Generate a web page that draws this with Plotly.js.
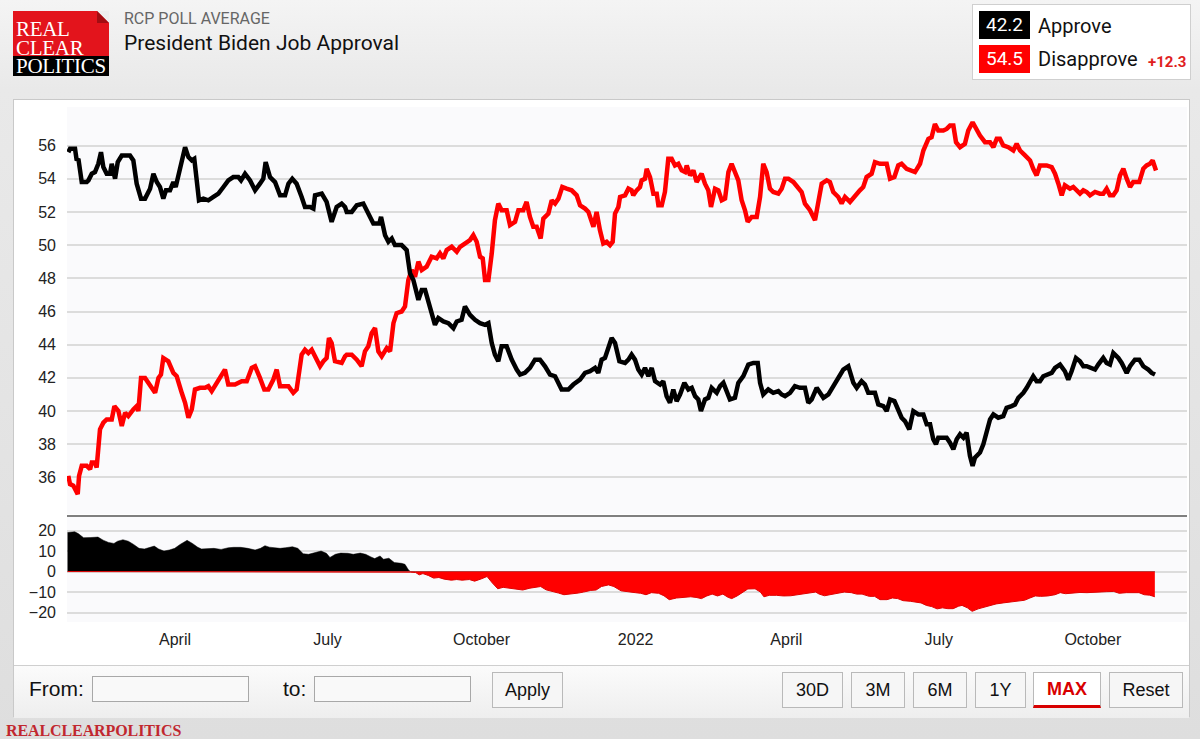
<!DOCTYPE html>
<html>
<head>
<meta charset="utf-8">
<script src="https://cdn.plot.ly/plotly-3.0.1.min.js"></script>
<style>
  html,body{margin:0;padding:0;}
  body{width:1200px;height:739px;overflow:hidden;position:relative;
       background:linear-gradient(#f4f4f4 0px,#e9e9e9 90px,#e4e4e4 400px,#dedede 739px);
       font-family:Roboto,"Liberation Sans",Arial,sans-serif;}
  .abs{position:absolute;white-space:nowrap;}
  .logo-red{position:absolute;left:13px;top:11px;width:96px;height:45px;background:#e3141c;}
  .logo-blk{position:absolute;left:13px;top:56px;width:96px;height:20px;background:#000;}
  .logo-fold{position:absolute;left:97px;top:11px;width:12px;height:12px;background:#a30d12;
             clip-path:polygon(0 0,100% 100%,0 100%);}
  .logo-corner{position:absolute;left:97px;top:11px;width:12px;height:12px;background:#eeeeee;
             clip-path:polygon(0 0,100% 0,100% 100%);}
  .logo-t{position:absolute;left:16px;top:20px;white-space:pre;font-family:"Liberation Serif","DejaVu Serif",serif;
          font-size:21px;line-height:18.6px;color:#fff;letter-spacing:-0.3px;}
  .panel{position:absolute;left:13px;top:99px;width:1177px;height:618px;background:#fff;
         border:1px solid #c9c9c9;box-sizing:border-box;}
  .bar{position:absolute;left:0;top:565px;width:100%;height:52px;
       background:linear-gradient(#fbfbfb,#eeeeee);border-top:1px solid #cfcfcf;}
  .lbl{position:absolute;font-family:"Liberation Sans",Arial,sans-serif;font-size:21px;color:#111;line-height:24px;}
  .inp{position:absolute;height:26px;border:1px solid #a8a8a8;background:#f9f9f9;box-sizing:border-box;}
  .btn{position:absolute;top:672px;height:36px;box-sizing:border-box;border:1px solid #b9b9b9;
       background:#f6f6f6;font-family:"Liberation Sans",Arial,sans-serif;font-size:18px;color:#111;
       display:flex;align-items:center;justify-content:center;}
  #chart{position:absolute;left:13px;top:99px;width:1178px;height:565px;}
</style>
</head>
<body>
<div class="logo-red"></div>
<div class="logo-blk"></div>
<div class="logo-corner"></div>
<div class="logo-fold"></div>
<div class="logo-t">REAL
CLEAR
POLITICS</div>

<div class="abs" style="left:124px;top:11px;font-size:16px;line-height:16px;color:#666;">RCP POLL AVERAGE</div>
<div class="abs" style="left:124px;top:33px;font-size:21px;line-height:21px;color:#111;">President Biden Job Approval</div>

<div class="abs" style="left:972px;top:4px;width:219px;height:76px;background:#fff;border:1px solid #cfcfcf;box-sizing:border-box;"></div>
<div class="abs" id="appBox" style="left:979px;top:11px;width:51px;height:28px;background:#000;color:#fff;font-size:19px;line-height:28px;text-align:center;"></div>
<div class="abs" style="left:1038px;top:14px;font-size:20px;line-height:24px;color:#111;">Approve</div>
<div class="abs" id="disBox" style="left:979px;top:45px;width:51px;height:28px;background:#ff0000;color:#fff;font-size:19px;line-height:28px;text-align:center;"></div>
<div class="abs" style="left:1038px;top:47px;font-size:20px;line-height:24px;color:#111;">Disapprove</div>
<div class="abs" id="spreadTxt" style="left:1148px;top:52px;font-size:15px;line-height:20px;color:#e01e1e;font-weight:bold;"></div>

<div class="panel"><div class="bar"></div></div>
<div id="chart"></div>

<div class="lbl" style="left:29px;top:677px;">From:</div>
<div class="inp" style="left:92px;top:676px;width:157px;"></div>
<div class="lbl" style="left:283px;top:677px;">to:</div>
<div class="inp" style="left:314px;top:676px;width:157px;"></div>
<div class="btn" style="left:492px;width:71px;">Apply</div>
<div class="btn" style="left:782px;width:61px;">30D</div>
<div class="btn" style="left:851px;width:54px;">3M</div>
<div class="btn" style="left:913px;width:54px;">6M</div>
<div class="btn" style="left:975px;width:51px;">1Y</div>
<div class="btn" style="left:1033px;width:68px;background:#fff;color:#d80000;font-weight:bold;border-bottom:3px solid #d80000;">MAX</div>
<div class="btn" style="left:1109px;width:74px;">Reset</div>

<div class="abs" style="left:6px;top:721px;font-family:'Liberation Serif',serif;font-weight:bold;font-size:16px;line-height:20px;color:#c1272f;letter-spacing:-0.1px;">REALCLEARPOLITICS</div>

<script>
// ---- data: days counted from 2021-01-01 ----
const approveDay = [26.3,27.3,30.3,31.3,32.3,33.3,34.3,37.3,38.3,40.3,42.2,44.2,45.8,47.2,49.2,51.2,52.2,54.2,55.8,58.2,63.1,65.1,67.1,69.7,72.1,75.1,77.1,79.1,81.0,83.0,84.6,87.0,89.0,90.4,93.0,96.0,98.0,100.0,101.5,102.9,104.3,106.9,109.9,112.9,115.9,118.9,121.8,124.8,127.8,129.4,131.8,134.8,137.8,140.7,142.7,144.1,146.7,149.7,152.7,155.7,157.7,160.0,162.6,165.6,167.6,170.6,172.6,173.6,177.6,180.5,183.5,186.5,189.5,191.5,
192.5,195.5,198.5,202.4,205.4,208.4,212.0,213.0,215.4,217.4,219.4,221.3,225.3,228.3,230.3,232.3,235.3,237.3,239.3,242.2,245.2,247.2,250.2,253.2,256.2,258.2,261.1,263.1,266.1,269.1,272.1,275.1,277.1,279.1,281.0,283.0,285.0,288.0,291.0,294.0,296.0,298.9,301.9,304.9,307.9,310.9,313.9,316.9,318.9,320.8,324.8,327.8,331.8,334.8,337.8,340.8,342.7,344.7,346.7,348.7,350.7,352.7,355.3,
358.7,360.7,362.6,364.6,366.6,368.6,370.6,372.6,374.6,376.6,379.6,381.5,383.5,385.5,387.5,389.5,391.5,394.1,396.5,398.5,400.5,402.4,404.0,406.4,408.4,410.4,413.4,415.4,417.4,419.4,421.3,424.3,426.3,429.3,432.3,435.3,437.9,439.3,441.2,444.2,447.2,450.2,452.2,454.2,457.2,460.1,463.1,466.1,468.1,470.1,473.1,475.1,477.1,480.1,483.0,486.0,489.0,492.0,495.0,497.0,499.9,501.9,503.9,505.9,507.9,509.9,512.9,514.9,516.9,519.5,
521.8,523.8,525.8,528.4,530.8,533.8,536.8,538.8,540.8,542.7,544.3,545.7,548.7,550.7,552.7,554.7,556.7,558.7,560.7,562.6,564.6,566.2,567.6,570.6,572.6,574.6,576.6,578.6,581.5,584.5,586.5,589.5,591.5,593.5,596.5,598.5,600.5,602.4,604.4,606.4,608.4,611.4,613.4,615.4,618.4,621.3,623.3,625.3,627.9,630.3,632.3,634.3,637.3,639.3,641.2,644.2,646.2,648.2,650.2,653.2,655.2,658.2,660.2,663.1,665.7,668.1,671.1,673.1,675.1];
const approveVal = [55.6,55.8,55.8,55.1,55.2,54.3,53.8,53.8,53.9,54.3,54.4,54.9,55.6,54.7,54.3,54.3,54.9,54.0,55.0,55.4,55.4,55.1,53.7,52.8,52.8,53.4,54.3,53.8,53.5,52.8,53.3,53.3,53.8,53.5,54.5,55.9,55.3,55.1,55.2,53.9,52.7,52.8,52.7,52.9,53.1,53.5,53.9,54.1,54.1,53.9,54.3,53.9,53.3,53.7,54.0,55.0,54.1,53.8,53.0,53.0,53.7,54.0,53.7,52.9,52.3,52.3,52.2,53.0,53.1,52.6,51.4,52.3,52.5,52.3,
52.0,52.0,52.4,52.5,51.9,51.3,51.3,51.7,50.6,50.2,50.4,50.0,50.0,49.7,48.3,47.9,46.7,47.3,47.3,46.3,45.2,45.6,45.4,45.3,45.0,45.4,45.5,46.3,45.8,45.5,45.3,45.2,45.3,44.1,43.4,43.0,43.9,43.9,43.1,42.5,42.2,42.3,42.6,43.1,43.1,42.7,42.2,42.1,41.7,41.3,41.3,41.6,41.9,42.3,42.4,42.6,42.3,43.1,43.2,43.9,44.4,44.1,43.0,
42.9,43.1,43.4,43.1,42.5,42.2,42.6,42.1,42.6,41.8,41.6,41.8,40.9,40.5,41.3,40.6,41.0,41.7,41.3,41.4,40.9,40.7,40.0,40.7,40.8,41.4,41.1,41.5,41.7,41.2,40.7,40.8,41.7,42.1,42.8,42.9,42.9,41.7,41.0,41.3,41.1,41.2,41.0,40.9,41.1,41.5,41.4,41.4,40.5,40.7,41.4,41.1,40.8,41.0,41.5,41.9,42.5,42.7,41.7,41.4,41.8,41.6,41.1,41.1,41.1,40.4,40.3,40.0,40.7,40.6,
40.0,39.6,39.4,38.9,40.0,39.8,39.8,39.2,39.2,38.3,38.0,38.4,38.4,38.4,38.1,37.7,38.3,38.6,38.4,38.7,37.3,36.7,37.2,37.5,38.0,38.9,39.5,39.8,39.6,39.7,40.2,40.3,40.4,40.8,41.1,41.4,41.7,42.1,41.8,41.8,42.1,42.2,42.3,42.6,42.8,42.4,41.9,42.4,43.2,43.0,42.7,42.7,42.6,42.5,42.8,43.2,42.9,42.8,43.5,43.2,42.9,42.3,42.7,43.1,43.1,42.7,42.5,42.3,42.2];

const disapproveDay = [26.3,27.3,29.3,31.9,32.7,34.3,37.3,39.3,40.3,42.2,43.2,45.2,47.2,49.2,52.2,53.8,56.2,58.2,60.2,62.1,65.1,67.1,68.1,69.7,72.1,75.1,78.1,80.1,81.6,83.0,86.0,89.0,91.0,94.0,96.0,98.0,100.0,101.9,104.9,107.9,109.9,111.9,114.9,117.9,119.8,121.8,125.8,129.8,132.8,135.8,137.8,140.7,143.3,145.7,148.7,150.7,152.7,157.7,160.6,162.6,165.6,167.6,169.6,171.6,173.6,176.6,178.6,180.5,181.9,183.5,185.5,189.5,191.5,
192.5,195.5,198.5,201.4,203.4,205.4,207.4,209.4,211.4,213.4,216.4,218.4,220.4,222.3,225.3,227.3,229.3,231.3,233.3,235.3,237.3,240.2,243.2,246.2,248.2,250.2,252.2,255.2,258.2,260.2,263.1,266.1,268.1,270.1,272.1,273.7,275.1,277.1,279.1,281.0,283.0,285.0,288.0,290.0,293.0,295.0,297.9,299.9,301.9,303.9,305.9,308.3,309.9,312.9,314.9,316.9,318.9,321.2,323.8,326.8,329.8,331.8,334.8,336.8,339.8,341.7,343.7,345.7,347.7,349.7,351.3,352.7,354.7,
355.7,358.7,360.7,362.6,363.6,365.6,367.6,368.6,370.6,371.6,373.6,375.6,377.6,378.6,380.6,382.5,384.5,386.5,388.5,390.5,392.5,394.5,395.5,397.5,399.5,401.4,404.4,406.4,408.4,410.0,412.4,414.4,416.4,418.4,420.4,422.3,424.3,426.3,428.3,430.3,431.9,434.3,437.3,439.3,441.2,443.2,445.2,447.2,450.2,452.2,454.2,456.2,459.2,462.1,464.1,466.1,469.1,472.1,474.1,476.1,479.1,481.0,483.0,486.0,488.0,490.0,493.0,496.0,498.9,500.9,502.9,505.9,507.9,510.9,514.9,516.9,519.5,
521.8,523.8,526.8,529.8,531.8,534.8,536.8,539.8,541.7,543.7,545.7,548.7,550.7,552.7,554.7,556.3,558.7,561.6,563.6,566.2,568.6,570.6,573.6,576.6,578.6,580.6,582.5,584.5,587.5,590.5,592.5,594.5,597.5,600.5,602.4,604.4,606.4,610.4,613.4,615.4,617.4,619.4,621.3,624.3,626.3,628.3,630.3,632.3,634.3,636.3,639.3,642.2,644.2,646.2,648.2,650.2,652.2,654.2,656.2,658.2,660.2,662.1,665.7,668.1,670.1,672.1,673.7,675.7];
const disapproveVal = [36.1,35.6,35.5,35.0,36.1,36.7,36.7,36.5,36.9,36.9,36.6,38.9,39.3,39.5,39.5,40.3,40.0,39.1,39.9,39.7,40.1,40.3,40.0,42.0,42.0,41.5,41.1,42.0,42.2,43.2,43.0,42.3,42.1,41.1,40.5,39.6,40.1,41.3,41.4,41.4,41.5,41.2,41.7,42.3,42.5,41.6,41.6,41.8,41.8,42.6,42.7,42.0,41.3,41.3,41.9,42.5,41.5,41.5,41.1,41.3,43.4,43.7,43.5,43.7,43.3,42.7,43.0,43.2,44.4,44.1,43.0,42.9,43.3,
43.4,43.4,43.1,42.7,43.6,43.9,44.7,45.0,43.6,43.3,43.8,43.6,45.3,45.9,46.0,46.3,47.9,48.5,48.1,49.0,48.5,48.7,49.3,49.2,49.5,49.2,49.7,49.9,49.6,49.9,50.1,50.3,50.6,50.2,49.3,49.2,47.9,47.9,49.5,51.5,52.5,52.1,52.1,51.2,51.4,52.1,52.1,52.6,51.7,51.1,51.1,50.4,51.6,51.9,52.7,52.5,52.8,53.5,53.4,53.3,53.0,52.4,52.2,52.0,51.1,52.0,50.9,50.1,50.2,50.0,50.2,51.9,52.3,
52.9,53.0,53.4,53.3,53.0,53.3,53.5,53.9,54.0,54.6,54.1,53.1,53.1,52.4,52.4,53.2,55.2,55.2,54.8,54.9,54.5,54.4,54.8,54.2,54.5,53.8,54.3,53.7,53.3,52.3,53.4,53.3,52.7,52.8,54.4,54.9,54.3,53.9,52.7,52.1,51.4,51.7,51.7,52.9,54.9,54.4,53.4,53.2,53.1,53.4,54.0,54.0,53.8,53.4,53.2,52.5,52.1,51.5,52.8,53.7,53.9,53.8,53.2,52.9,52.5,52.9,52.6,53.0,53.3,53.5,54.1,54.3,55.0,54.9,54.9,54.0,54.1,
54.8,54.9,54.6,54.5,54.4,54.9,55.7,56.4,56.5,57.3,56.9,56.9,57.0,57.2,57.2,56.2,55.9,56.1,56.9,57.4,56.9,56.6,56.2,56.2,55.9,56.4,56.4,56.0,55.9,55.7,56.1,55.7,55.4,55.1,54.6,54.2,54.8,54.8,54.7,54.3,53.7,53.0,53.6,53.4,53.5,53.3,53.1,53.3,53.2,53.0,53.2,53.1,53.1,53.4,53.0,53.0,53.3,54.2,54.6,54.0,53.5,53.8,53.8,54.6,54.8,54.9,55.1,54.5];

const spreadDay = [25.8,30.1,32.2,35.4,39.7,44.0,47.1,50.3,53.5,55.7,58.9,62.1,65.3,68.5,71.7,74.2,77.6,80.2,83.4,86.6,89.8,93.0,97.2,100.4,103.6,105.8,110.0,113.2,117.5,121.8,125.0,129.2,133.5,137.8,141.0,143.7,146.3,149.5,152.7,155.9,160.1,163.3,166.5,169.7,172.9,177.2,180.4,182.5,185.7,188.9,193.2,196.4,200.6,203.8,207.0,209.2,212.4,214.5,217.7,220.9,225.2,227.3,229.4,230.5,233.7,235.8,238.0,241.2,244.4,247.5,250.7,255.0,258.2,261.4,265.7,268.9,273.1,276.3,279.5,282.7,285.9,290.2,294.5,297.6,301.9,305.1,308.3,311.5,314.7,319.0,322.2,326.4,330.7,333.9,338.2,341.4,344.6,348.8,352.0,
356.3,360.6,364.8,368.0,371.2,374.4,378.7,381.9,385.1,389.4,393.6,397.9,401.1,404.3,407.5,410.7,413.9,417.1,420.3,422.4,425.6,428.8,432.0,436.3,439.5,441.6,444.8,449.1,453.3,457.6,461.8,466.1,470.4,472.5,474.6,477.8,481.0,485.3,489.6,493.8,497.0,500.2,504.5,507.7,510.9,515.1,518.3,521.5,524.7,529.0,532.2,535.4,538.6,541.8,545.0,548.2,551.4,554.6,557.8,559.9,563.1,565.9,569.5,572.7,575.9,580.2,584.4,588.7,593.0,597.2,600.4,603.6,606.8,611.1,615.4,618.5,621.7,626.0,630.3,634.5,638.8,643.1,646.3,650.5,653.7,658.0,662.3,665.5,668.7,671.9,675.0];
const spreadVal = [19.0,19.4,18.5,16.5,16.6,16.8,15.3,14.2,13.7,14.8,15.5,14.8,13.2,11.3,11.0,11.6,12.4,11.0,10.0,10.5,11.3,13.2,15.2,13.7,11.8,11.0,11.0,11.3,10.8,11.6,11.8,11.8,11.3,10.5,11.3,12.6,11.9,11.5,11.3,11.6,12.1,11.3,8.7,8.4,9.2,10.0,8.9,6.9,8.4,9.0,8.9,8.4,9.0,8.4,7.1,6.3,7.6,6.0,6.5,4.4,4.0,3.5,0.8,-0.3,-0.5,-1.6,-1.0,-1.9,-3.2,-2.9,-3.7,-4.2,-3.9,-4.2,-3.9,-4.7,-3.5,-2.4,-5.6,-8.4,-7.7,-8.1,-8.5,-9.0,-8.1,-7.6,-7.3,-8.9,-9.5,-10.5,-11.3,-11.0,-10.5,-10.0,-9.2,-9.0,-7.3,-6.5,-7.3,
-9.4,-9.7,-10.3,-10.6,-11.3,-10.3,-10.6,-11.8,-13.7,-12.9,-12.6,-12.3,-12.6,-13.2,-11.9,-11.0,-11.9,-11.0,-12.6,-13.2,-11.9,-10.0,-8.5,-8.4,-10.0,-12.3,-11.6,-11.6,-11.9,-11.8,-11.3,-11.0,-10.6,-10.0,-11.0,-11.8,-11.3,-10.5,-10.0,-10.3,-11.0,-11.0,-12.1,-12.1,-13.7,-13.7,-12.9,-13.2,-14.2,-14.5,-14.8,-15.3,-16.5,-17.1,-18.2,-17.7,-18.1,-18.1,-16.9,-16.5,-17.7,-19.4,-18.2,-17.4,-16.5,-15.8,-15.3,-14.8,-14.5,-14.0,-12.9,-11.9,-12.1,-11.9,-11.3,-10.3,-10.8,-10.5,-10.2,-10.3,-10.0,-10.0,-9.8,-9.7,-10.6,-10.3,-10.2,-10.3,-11.3,-11.5,-12.3];

const tickDates  = ['2021-04-01','2021-07-01','2021-10-01','2022-01-01','2022-04-01','2022-07-01','2022-10-01'];
const tickLabels = ['April','July','October','2022','April','July','October'];
const mainTicks  = [36,38,40,42,44,46,48,50,52,54,56];
const spreadTicks = [-20,-10,0,10,20];

// ---- checks ----
if (approveDay.length !== approveVal.length) throw new Error('approve mismatch ' + approveDay.length + ' ' + approveVal.length);
if (disapproveDay.length !== disapproveVal.length) throw new Error('disapprove mismatch ' + disapproveDay.length + ' ' + disapproveVal.length);
if (spreadDay.length !== spreadVal.length) throw new Error('spread mismatch ' + spreadDay.length + ' ' + spreadVal.length);

const START = Date.UTC(2021, 0, 1);
function toDate(d) {
  return new Date(START + d * 86400000).toISOString().slice(0, 19).replace('T', ' ');
}

const lastApp = approveVal[approveVal.length - 1];
const lastDis = disapproveVal[disapproveVal.length - 1];
document.getElementById('appBox').textContent = lastApp.toFixed(1);
document.getElementById('disBox').textContent = lastDis.toFixed(1);
document.getElementById('spreadTxt').textContent = '+' + (lastDis - lastApp).toFixed(1);

const sx = spreadDay.map(toDate);
const traces = [
  {x: disapproveDay.map(toDate), y: disapproveVal, type: 'scatter', mode: 'lines',
   line: {color: '#ff0000', width: 4.5}, xaxis: 'x', yaxis: 'y', hoverinfo: 'skip'},
  {x: approveDay.map(toDate), y: approveVal, type: 'scatter', mode: 'lines',
   line: {color: '#000000', width: 4.5}, xaxis: 'x', yaxis: 'y', hoverinfo: 'skip'},
  {x: sx, y: spreadVal.map(v => Math.max(v, 0)), type: 'scatter', mode: 'lines', fill: 'tozeroy',
   fillcolor: '#000000', line: {color: '#000000', width: 0.5}, xaxis: 'x', yaxis: 'y2', hoverinfo: 'skip'},
  {x: sx, y: spreadVal.map(v => Math.min(v, 0)), type: 'scatter', mode: 'lines', fill: 'tozeroy',
   fillcolor: '#ff0000', line: {color: '#e00000', width: 1}, xaxis: 'x', yaxis: 'y2', hoverinfo: 'skip'}
];

const tickFont = {family: '"Liberation Sans", Arial, sans-serif', size: 16, color: '#222'};
const layout = {
  width: 1178, height: 565,
  margin: {l: 54, r: 4, t: 8, b: 42},
  paper_bgcolor: 'rgba(0,0,0,0)',
  plot_bgcolor: '#fafafc',
  showlegend: false,
  xaxis: {
    type: 'date', anchor: 'y2',
    range: [toDate(25.5), toDate(694.2)],
    tickmode: 'array', tickvals: tickDates, ticktext: tickLabels,
    showgrid: false, zeroline: false, showline: false, ticks: '',
    ticklabelstandoff: 6, tickfont: tickFont
  },
  yaxis: {
    domain: [0.2097, 1], range: [33.8, 58.32],
    tickmode: 'array', tickvals: mainTicks,
    gridcolor: '#dcdcdc', gridwidth: 2, zeroline: false, showline: false,
    ticks: '', ticklabelstandoff: 10, tickfont: tickFont
  },
  yaxis2: {
    domain: [0, 0.2039], range: [-24.6, 26.6],
    tickmode: 'array', tickvals: spreadTicks,
    gridcolor: '#dcdcdc', gridwidth: 2, zeroline: false, showline: false,
    ticks: '', ticklabelstandoff: 10, tickfont: tickFont
  },
  shapes: [
    {type: 'line', xref: 'paper', yref: 'paper', x0: 0, x1: 1, y0: 0.2058, y1: 0.2058,
     line: {color: '#555555', width: 1.5}}
  ]
};

Plotly.newPlot('chart', traces, layout, {staticPlot: true, displayModeBar: false});
</script>
</body>
</html>
